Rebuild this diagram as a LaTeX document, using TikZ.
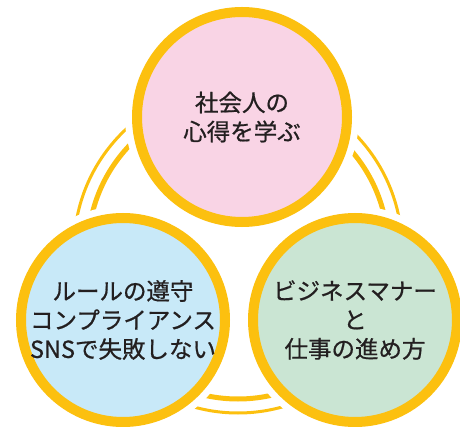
\documentclass[tikz,border=0pt]{standalone}
\usepackage{fontspec}
\newfontfamily\jpfont[BoldFont={Noto Sans CJK JP}, BoldFeatures={FakeBold=0.7}]{Noto Sans CJK JP}
\usepackage{xcolor}
\usepackage{tikz}

\definecolor{ringgold}{HTML}{FCC00F}
\definecolor{inkgray}{HTML}{231F20}
\definecolor{pinkfill}{HTML}{F9D4E5}
\definecolor{bluefill}{HTML}{C8E9F8}
\definecolor{greenfill}{HTML}{CAE5D3}

\begin{document}
\begin{tikzpicture}[x=1pt,y=-1pt]
\tikzstyle{every node}+=[inner sep=0pt]
\tikzstyle{topic}=[circle, draw=ringgold, line width=10pt, text=inkgray, align=center,
  font=\fontsize{23.5}{29}\selectfont\jpfont\bfseries, preaction={draw=white, line width=24pt}]
\useasboundingbox (0,0) rectangle (460,427);
% double ring behind the circles
\coordinate (hub) at (238,249);
\draw [ringgold, line width=3pt] (hub) circle (164pt);
\draw [ringgold, line width=5pt] (hub) circle (150pt);
% the three topics
\node [topic, fill=pinkfill, minimum size=210pt] (mind) at (242,117) {社会人の\\心得を学ぶ};
\node [topic, fill=bluefill, minimum size=204pt] (rules) at (123,320) {ルールの遵守\\コンプライアンス\\SNSで失敗しない};
\node [topic, fill=greenfill, minimum size=204pt] (manner) at (355,320) {ビジネスマナー\\と\\仕事の進め方};
\end{tikzpicture}
\end{document}
